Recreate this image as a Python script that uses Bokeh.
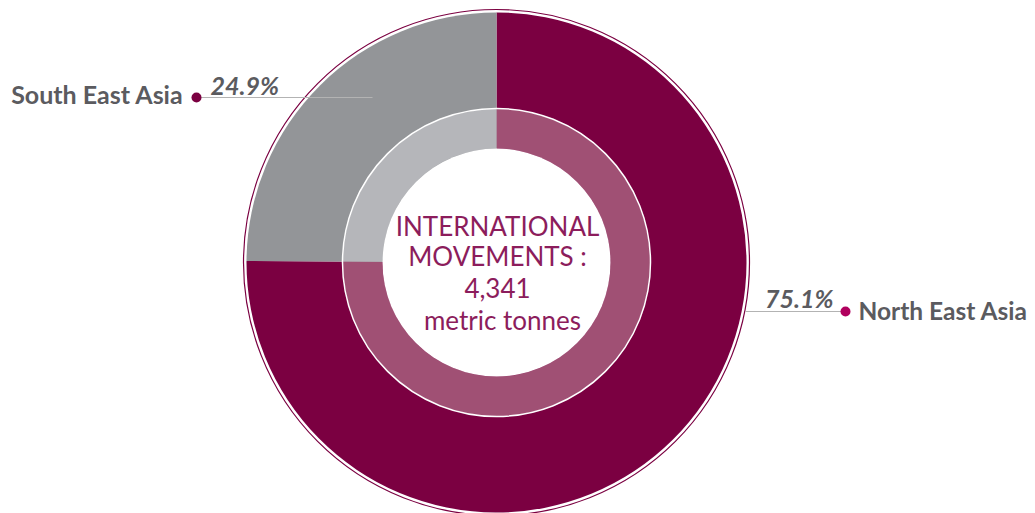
import numpy as np
from bokeh.plotting import figure
from bokeh.models import Range1d, ColumnDataSource
from bokeh.core.properties import value
from bokeh.embed import file_html
from bokeh.resources import INLINE

# ---- data ----
regions = ["North East Asia", "South East Asia"]
shares = [75.1, 24.9]
total_tonnes = 4341
title_lines = ["INTERNATIONAL", "MOVEMENTS :"]
unit_label = "metric tonnes"

outer_colors = ["#7b0041", "#939598"]
inner_colors = ["#a05074", "#b5b6ba"]
dot_colors = ["#b0005e", "#7b0041"]

W, H = 1035, 513
p = figure(width=W, height=H, output_backend="svg", toolbar_location=None,
           x_range=Range1d(0, W), y_range=Range1d(-H, 0),
           min_border=0)
p.axis.visible = False
p.grid.visible = False
p.outline_line_color = None
p.background_fill_color = "white"
p.border_fill_color = "white"

cx, cy = 496, -262

# angles: clockwise from 12 o'clock
fr = np.array(shares) / sum(shares)
cum = np.concatenate([[0], np.cumsum(fr)])
starts = np.pi / 2 - cum[1:] * 2 * np.pi
ends = np.pi / 2 - cum[:-1] * 2 * np.pi

src = ColumnDataSource(dict(x=[cx] * len(shares), y=[cy] * len(shares),
                            start=starts, end=ends,
                            oc=outer_colors, ic=inner_colors))

# outer thin ring outline
p.circle(x=[cx], y=[cy], radius=253, fill_color=None, line_color="#7b0041", line_width=1.2)
# outer pie
p.wedge(x="x", y="y", radius=250, start_angle="start", end_angle="end",
        fill_color="oc", line_color=None, source=src)
# inner ring
p.annular_wedge(x="x", y="y", inner_radius=114, outer_radius=153.5,
                start_angle="start", end_angle="end",
                fill_color="ic", line_color=None, source=src)
p.circle(x=[cx], y=[cy], radius=154, fill_color=None, line_color="white", line_width=1.5)
p.circle(x=[cx], y=[cy], radius=114, fill_color="white", line_color=None)

# center text
center_txt = title_lines + [f"{total_tonnes:,}", unit_label]
p.text(x=[497, 497, 497, 502], y=[-225, -255, -287.5, -319.5], text=center_txt,
       text_font=value("Lato"), text_font_size="26px", text_color="#8c1d5c",
       text_align="center", text_baseline="middle")

# leader lines & labels
# South East Asia (index 1)
p.line(x=[196, 372], y=[-97, -97], line_color="#b3b3b3", line_width=1)
p.scatter(x=[196], y=[-97], size=10, fill_color=dot_colors[1], line_color=None)
p.text(x=[183], y=[-93], text=[regions[1]], text_font=value("Lato"),
       text_font_style="bold", text_font_size="25px", text_color="#5b5b5f",
       text_align="right", text_baseline="middle")
p.text(x=[210], y=[-84.5], text=[f"{shares[1]}%"], text_font=value("Lato"),
       text_font_style="bold italic", text_font_size="25px", text_color="#5b5b5f",
       text_align="left", text_baseline="middle")

# North East Asia (index 0)
p.line(x=[745, 845], y=[-311, -311], line_color="#b3b3b3", line_width=1)
p.scatter(x=[845], y=[-311], size=10, fill_color=dot_colors[0], line_color=None)
p.text(x=[858], y=[-309.5], text=[regions[0]], text_font=value("Lato"),
       text_font_style="bold", text_font_size="24.5px", text_color="#5b5b5f",
       text_align="left", text_baseline="middle")
p.text(x=[833], y=[-297], text=[f"{shares[0]}%"], text_font=value("Lato"),
       text_font_style="bold italic", text_font_size="25px", text_color="#5b5b5f",
       text_align="right", text_baseline="middle")

open("out.html", "w").write(file_html(p, INLINE))
